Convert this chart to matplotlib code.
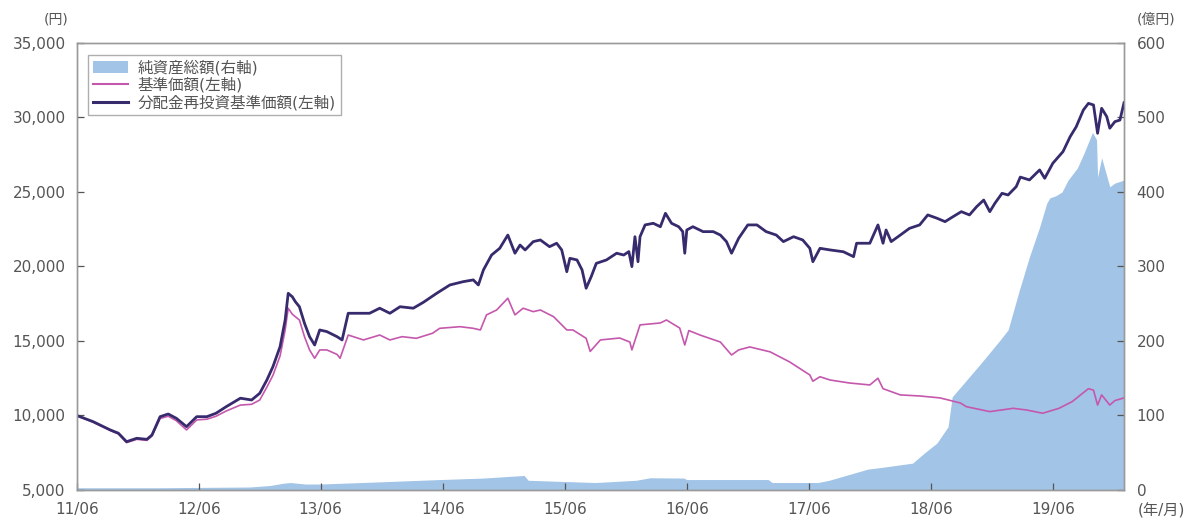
import matplotlib
matplotlib.use("Agg")
import matplotlib.pyplot as plt
from matplotlib.patches import Patch
from matplotlib.lines import Line2D

plt.rcParams['font.family'] = ['DejaVu Sans', 'Noto Sans CJK JP']

# months elapsed since 2011/06
tick_months = [0, 12, 24, 36, 48, 60, 72, 84, 96]
tick_labels = ["11/06", "12/06", "13/06", "14/06", "15/06", "16/06", "17/06", "18/06", "19/06"]

# 分配金再投資基準価額 (円)
reinv_m = [0, 1.6, 3.3, 4.1, 4.9, 5.9, 6.9, 7.4, 8.2, 9.0, 9.8, 10.8, 11.8, 12.8, 13.7, 14.7,
           16.1, 17.2, 18.0, 18.7, 19.3, 20.0, 20.5, 20.8, 21.2, 21.5, 21.9, 22.4, 22.9, 23.4,
           23.9, 24.6, 25.6, 26.1, 26.7, 27.5, 28.8, 29.8, 30.8, 31.8, 33.1, 34.1, 35.4, 36.7,
           38.0, 39.0, 39.5, 40.0, 40.8, 41.6, 42.4, 43.1, 43.6, 44.1, 44.9, 45.6, 46.5, 47.2,
           47.7, 48.2, 48.5, 49.2, 49.7, 50.1, 50.6, 51.1, 52.1, 53.1, 53.8, 54.3, 54.6, 54.9,
           55.2, 55.4, 55.9, 56.7, 57.4, 57.9, 58.5, 59.2, 59.6, 59.8, 60.0, 60.6, 61.6, 62.6,
           63.3, 63.9, 64.4, 65.1, 66.0, 66.9, 67.8, 68.8, 69.5, 70.5, 71.4, 72.1, 72.4, 73.1,
           74.1, 75.4, 76.4, 76.7, 78.0, 78.8, 79.3, 79.6, 80.1, 81.0, 81.9, 82.9, 83.7, 84.6,
           85.4, 86.2, 87.0, 87.8, 88.5, 89.2, 89.8, 90.3, 91.0, 91.6, 92.4, 92.8, 93.7, 94.7,
           95.2, 96.0, 97.0, 97.7, 98.3, 99.0, 99.5, 100.0, 100.4, 100.8, 101.3, 101.6, 102.1,
           102.6, 103.0]
reinv_v = [10000, 9590, 9030, 8810, 8240, 8470, 8400, 8690, 9920, 10100, 9810, 9250, 9920, 9920,
           10150, 10590, 11160, 11040, 11490, 12380, 13280, 14620, 16410, 18200, 17970, 17640,
           17300, 16190, 15290, 14730, 15740, 15630, 15290, 15070, 16860, 16860, 16860, 17200,
           16860, 17300, 17200, 17600, 18200, 18760, 18980, 19100, 18760, 19770, 20770, 21220,
           22110, 20890, 21440, 21110, 21670, 21780, 21330, 21560, 21110, 19650, 20550, 20440,
           19770, 18540, 19320, 20210, 20440, 20890, 20770, 21000, 19990, 22000, 20320, 22000,
           22790, 22900, 22670, 23570, 22900, 22670, 22340, 20890, 22450, 22670, 22340, 22340,
           22110, 21670, 20890, 21890, 22790, 22790, 22340, 22110, 21670, 22000, 21780, 21220,
           20320, 21220, 21110, 20990, 20660, 21560, 21560, 22790, 21560, 22450, 21670, 22110,
           22560, 22790, 23460, 23240, 23010, 23350, 23680, 23460, 24010, 24460, 23680, 24240,
           24910, 24800, 25360, 26000, 25810, 26480, 25920, 26930, 27710, 28710, 29380, 30500,
           30950, 30840, 28940, 30620, 30060, 29280, 29720, 29830, 30990]

# 基準価額 (円)
nav_m = [0, 1.6, 3.3, 4.1, 4.9, 5.9, 6.9, 7.4, 8.2, 9.0, 9.8, 10.8, 11.8, 12.8, 13.7, 14.7,
         16.1, 17.2, 18.0, 18.7, 19.3, 20.0, 20.5, 20.8, 21.2, 21.5, 21.9, 22.4, 22.9, 23.4,
         23.9, 24.6, 25.6, 25.9, 26.7, 28.2, 29.8, 30.8, 32.0, 33.4, 35.0, 35.7, 37.7, 39.0,
         39.7, 40.3, 41.3, 42.4, 43.1, 43.9, 44.9, 45.6, 46.9, 48.2, 48.8, 50.1, 50.5, 51.5,
         53.4, 54.4, 54.6, 55.4, 57.4, 58.0, 59.3, 59.8, 60.2, 61.3, 63.3, 64.4, 65.1, 66.2,
         68.2, 70.1, 72.1, 72.4, 73.1, 74.1, 76.0, 78.0, 78.8, 79.3, 81.0, 82.9, 84.9, 86.9,
         87.5, 89.8, 92.1, 93.4, 95.0, 96.6, 97.9, 99.5, 100.0, 100.4, 100.8, 101.6, 102.1, 103.0]
nav_v = [10000, 9550, 8990, 8760, 8180, 8400, 8330, 8620, 9800, 9950, 9650, 9030, 9700, 9750,
         9950, 10300, 10700, 10750, 11040, 11900, 12700, 14000, 15740, 17200, 16800, 16630,
         16410, 15290, 14400, 13840, 14400, 14400, 14100, 13840, 15400, 15070, 15400, 15070,
         15290, 15180, 15520, 15850, 15960, 15850, 15740, 16750, 17080, 17870, 16750, 17200,
         16970, 17080, 16630, 15740, 15740, 15180, 14300, 15070, 15200, 14930, 14400, 16080,
         16210, 16410, 15870, 14730, 15700, 15400, 14930, 14060, 14400, 14600, 14270, 13600,
         12720, 12300, 12600, 12380, 12180, 12050, 12500, 11800, 11380, 11310, 11180, 10840,
         10590, 10260, 10480, 10370, 10150, 10480, 10930, 11800, 11700, 10700, 11380, 10700,
         11000, 11180]

# 純資産総額 (億円)
aum_m = [0, 8, 17, 19, 20.3, 21, 22.5, 24, 30, 35.7, 40, 44, 44.4, 51, 55, 56.4, 59.7, 60,
         68, 68.4, 72.9, 74, 77.8, 79, 82.2, 83.4, 84.6, 85.7, 86.1, 88.8, 90.8, 91.6, 92.7,
         93.7, 94.7, 95.4, 95.7, 96.3, 96.9, 97.5, 98.4, 99.0, 99.9, 100.3, 100.4, 100.8,
         101.6, 102.1, 103.0]
aum_v = [3, 3, 4, 6, 9, 10, 8, 8, 11, 14, 16, 19.5, 13, 10, 13, 16.4, 16, 14, 14, 10, 10, 13,
         28, 30, 36, 50, 63, 85, 125, 168, 201, 215, 268, 313, 353, 385, 392, 395, 400, 416,
         432, 450, 480, 470, 420, 446, 407, 412, 416]

area_c = '#a2c4e7'
pink_c = '#c558ad'
navy_c = '#372b6d'
grey = '#9a9a9a'
txt = '#555555'

fig = plt.figure(figsize=(11.95, 5.25), dpi=100)
ax = fig.add_axes([0.0642, 0.0667, 0.8764, 0.8514])
ax2 = ax.twinx()

ax2.fill_between(aum_m, 0, aum_v, color=area_c, linewidth=0)
ax.plot(nav_m, nav_v, color=pink_c, linewidth=1.2)
ax.plot(reinv_m, reinv_v, color=navy_c, linewidth=2.0)

ax.set_zorder(ax2.get_zorder() + 1)
ax.patch.set_visible(False)

ax.set_xlim(0, 103)
ax.set_ylim(5000, 35000)
ax2.set_ylim(0, 600)
ax.set_yticks(range(5000, 35001, 5000))
ax.set_yticklabels([f"{v:,}" for v in range(5000, 35001, 5000)])
ax2.set_yticks(range(0, 601, 100))
ax.set_xticks(tick_months)
ax.set_xticklabels(tick_labels)

for a in (ax, ax2):
    for s in a.spines.values():
        s.set_color(grey)
        s.set_linewidth(1.0)
    a.tick_params(direction='in', length=5, color='#555555', width=0.9,
                  labelsize=11, labelcolor=txt)
ax.tick_params(axis='x', pad=9)
ax.tick_params(axis='y', pad=8)
ax2.tick_params(axis='y', pad=9)

fig.text(0.047, 0.962, "(円)", fontsize=10, color=txt, ha='center', va='center')
fig.text(0.967, 0.962, "(億円)", fontsize=10, color=txt, ha='center', va='center')
fig.text(0.952, 0.028, "(年/月)", fontsize=11, color=txt, ha='left', va='center')

handles = [Patch(facecolor=area_c, edgecolor='none'),
           Line2D([], [], color=pink_c, linewidth=1.5),
           Line2D([], [], color=navy_c, linewidth=2.2)]
labels = ["純資産総額(右軸)", "基準価額(左軸)", "分配金再投資基準価額(左軸)"]
leg = ax.legend(handles, labels, loc='upper left', bbox_to_anchor=(0.0108, 0.973),
                fontsize=11.2, frameon=True, fancybox=False, edgecolor=grey,
                handlelength=2.3, handleheight=0.85, borderpad=0.3, labelspacing=0.12,
                handletextpad=0.6, borderaxespad=0)
leg.get_frame().set_linewidth(1.0)
for t in leg.get_texts():
    t.set_color(txt)

fig.savefig("out.png", dpi=100)
